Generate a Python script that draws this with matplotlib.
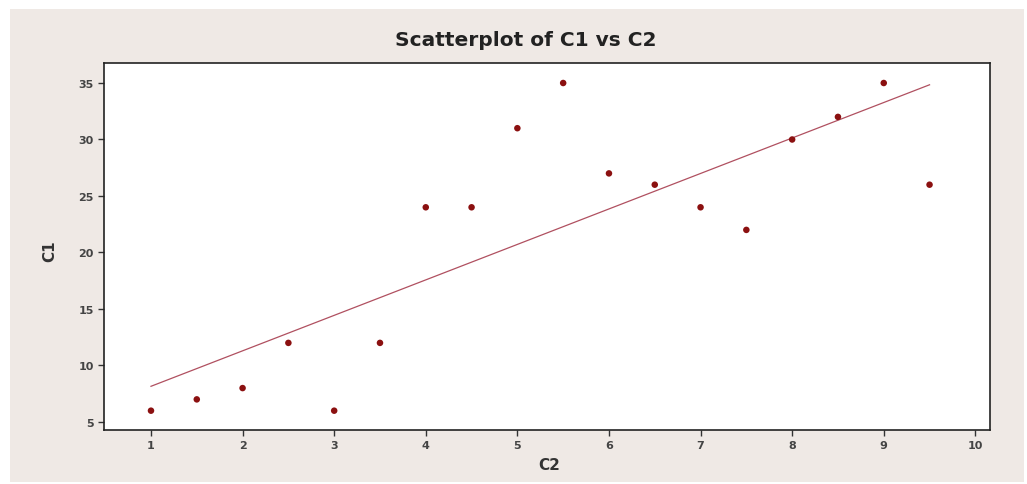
import numpy as np
import matplotlib.pyplot as plt
from matplotlib.patches import Rectangle

c2 = [1, 1.5, 2, 2.5, 3, 3.5, 4, 4.5, 5, 5.5, 6, 6.5, 7, 7.5, 8, 8.5, 9, 9.5]
c1 = [6, 7, 8, 12, 6, 12, 24, 24, 31, 35, 27, 26, 24, 22, 30, 32, 35, 26]
xticks = [1, 2, 3, 4, 5, 6, 7, 8, 9, 10]
yticks = [5, 10, 15, 20, 25, 30, 35]

fig = plt.figure(figsize=(10.27, 4.85), dpi=100)
fig.patch.set_facecolor('white')

# grey panel behind the plot
fig.patches.append(Rectangle((10 / 1027, 2 / 485), 1014 / 1027, 473 / 485,
                             transform=fig.transFigure, facecolor='#efe9e5',
                             edgecolor='none', zorder=-5))

ax = fig.add_axes([104 / 1027, 1 - 431 / 485, 886 / 1027, 367 / 485])
ax.set_zorder(1)
ax.set_facecolor('white')

# least squares fit line
x = np.array(c2)
y = np.array(c1)
slope, intercept = np.polyfit(x, y, 1)
xs = np.array([x.min(), x.max()])
ax.plot(xs, slope * xs + intercept, color='#b05060', lw=0.9, zorder=2)

ax.scatter(x, y, s=22, color='#8b1010', edgecolors='none', zorder=3)

ax.set_xlim(0.487, 10.16)
ax.set_ylim(4.29, 36.77)
ax.set_xticks(xticks)
ax.set_yticks(yticks)
ax.tick_params(direction='out', length=4, width=1, colors='#333333',
               labelsize=8, labelcolor='#444444')
for lab in ax.get_xticklabels() + ax.get_yticklabels():
    lab.set_fontweight('bold')
for s in ax.spines.values():
    s.set_color('#222222')
    s.set_linewidth(1.2)

fig.text(526 / 1027, 1 - 40 / 485, 'Scatterplot of C1 vs C2', ha='center',
         va='center', fontsize=14.5, fontweight='bold', color='#222222')
fig.text(549 / 1027, 1 - 466 / 485, 'C2', ha='center', va='center',
         fontsize=11, fontweight='bold', color='#333333')
fig.text(50 / 1027, 1 - 251 / 485, 'C1', ha='center', va='center',
         fontsize=11, fontweight='bold', color='#333333', rotation=90)

fig.savefig('out.png', dpi=100, facecolor=fig.get_facecolor())
